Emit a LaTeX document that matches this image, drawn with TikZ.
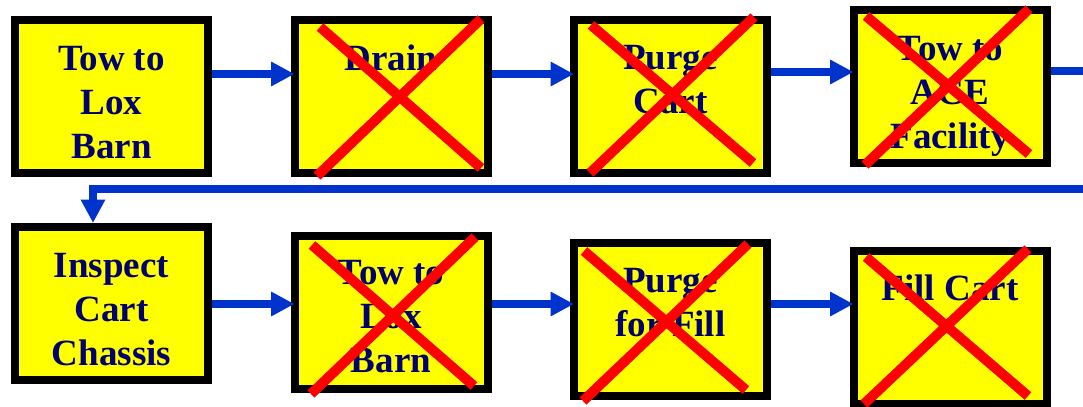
\documentclass[tikz,border=0pt]{standalone}
\usepackage{fontspec}
\setmainfont{Liberation Serif}
\usetikzlibrary{arrows.meta,calc}
\definecolor{boxyellow}{RGB}{255,255,0}
\definecolor{flowblue}{RGB}{0,51,204}
\definecolor{navytext}{RGB}{0,0,110}
\definecolor{crossred}{RGB}{255,0,0}
\begin{document}
\begin{tikzpicture}[x=0.75pt,y=-0.75pt,
  stepbox/.style={draw=black, line width=6pt, fill=boxyellow, minimum width=144.75pt, minimum height=114.75pt, inner sep=0pt},
  steplabel/.style={font=\fontsize{27.75}{33}\selectfont\bfseries, text=navytext, align=center, anchor=base, inner sep=0pt},
  flow/.style={draw=flowblue, line width=5.6pt, -{Triangle[length=17.5pt,width=17.25pt]}},
  flowline/.style={draw=flowblue, line width=5.6pt},
  cross/.style={draw=crossred, line width=7.5pt}]
\useasboundingbox (0,0) rectangle (1083,407);
% boxes
\node[stepbox] (b1) at (111.5,96.5) {};
\node[stepbox] (b2) at (391,96.5) {};
\node[stepbox] (b3) at (670.5,96.5) {};
\node[stepbox] (b4) at (950,86.5) {};
\node[stepbox] (b5) at (111.5,303.5) {};
\node[stepbox] (b6) at (391,312) {};
\node[stepbox] (b7) at (670.5,319.5) {};
\node[stepbox] (b8) at (950,327.5) {};
% labels (anchor base = last line)
\node[steplabel] (t1) at ($(b1.north)+(0,142)$) {Tow to\\Lox\\Barn};
\node[steplabel] (t2) at ($(b2.north)+(0,54)$) {Drain};
\node[steplabel] (t3) at ($(b3.north)+(0,97)$) {Purge\\Cart};
\node[steplabel] (t4) at ($(b4.north)+(0,142)$) {Tow to\\ACE\\Facility};
\node[steplabel] (t5) at ($(b5.north)+(0,142)$) {Inspect\\Cart\\Chassis};
\node[steplabel] (t6) at ($(b6.north)+(0,141)$) {Tow to\\Lox\\Barn};
\node[steplabel] (t7) at ($(b7.north)+(0,97)$) {Purge\\for Fill};
\node[steplabel] (t8) at ($(b8.north)+(0,53)$) {Fill Cart};
% crosses
\draw[cross] (320,27) -- (481,168) (481,19) -- (317,176);
\draw[cross] (591,25) -- (753,163) (754,17) -- (590,173);
\draw[cross] (866,16) -- (1029,154) (1029,9) -- (865,165);
\draw[cross] (312,245) -- (474,386) (475,237) -- (311,394);
\draw[cross] (584,251) -- (746,390) (748,244) -- (583,401);
\draw[cross] (866,257) -- (1028,396) (1028,249) -- (864,404);
% connectors
\coordinate (r1) at (0,74);
\coordinate (r2) at (0,72);
\coordinate (r3) at (0,304);
\coordinate (e1) at (1083,71);
\coordinate (e2) at (1083,189);
\coordinate (k) at (93,189);
\draw[flow] (b1.east |- r1) -- ([xshift=3pt]b2.west |- r1);
\draw[flow] (b2.east |- r1) -- ([xshift=3pt]b3.west |- r1);
\draw[flow] (b3.east |- r2) -- ([xshift=3pt]b4.west |- r2);
\draw[flowline] (b4.east |- e1) -- (e1);
\draw[flow] (e2) -- (k) -- (k |- b5.north);
\draw[flow] (b5.east |- r3) -- ([xshift=3pt]b6.west |- r3);
\draw[flow] (b6.east |- r3) -- ([xshift=3pt]b7.west |- r3);
\draw[flow] (b7.east |- r3) -- ([xshift=3pt]b8.west |- r3);
\end{tikzpicture}
\end{document}
